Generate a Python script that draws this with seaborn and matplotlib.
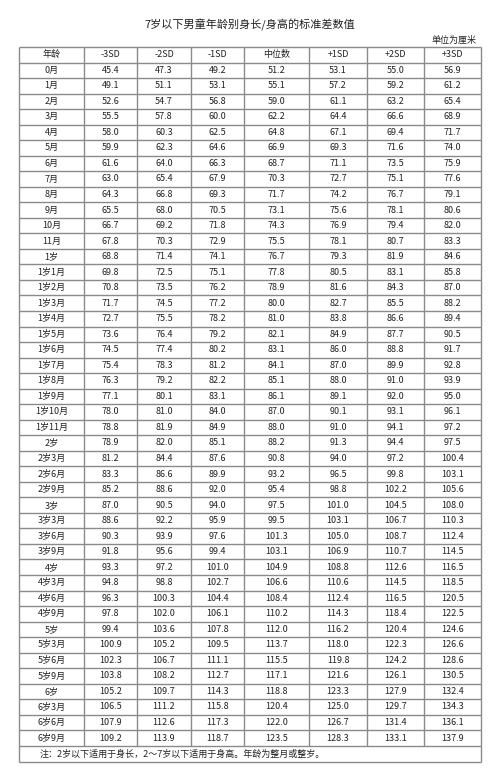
import numpy as np
import pandas as pd
import seaborn as sns
import matplotlib
matplotlib.use("Agg")
import matplotlib.pyplot as plt

sns.set_style("white")
plt.rcParams['font.family'] = ['Noto Sans CJK SC', 'DejaVu Sans']

ages = ['0月', '1月', '2月', '3月', '4月', '5月', '6月', '7月', '8月', '9月', '10月', '11月',
        '1岁', '1岁1月', '1岁2月', '1岁3月', '1岁4月', '1岁5月', '1岁6月', '1岁7月', '1岁8月',
        '1岁9月', '1岁10月', '1岁11月', '2岁', '2岁3月', '2岁6月', '2岁9月', '3岁', '3岁3月',
        '3岁6月', '3岁9月', '4岁', '4岁3月', '4岁6月', '4岁9月', '5岁', '5岁3月', '5岁6月',
        '5岁9月', '6岁', '6岁3月', '6岁6月', '6岁9月']
m3 = [45.4, 49.1, 52.6, 55.5, 58.0, 59.9, 61.6, 63.0, 64.3, 65.5, 66.7, 67.8, 68.8, 69.8, 70.8, 71.7,
      72.7, 73.6, 74.5, 75.4, 76.3, 77.1, 78.0, 78.8, 78.9, 81.2, 83.3, 85.2, 87.0, 88.6, 90.3, 91.8,
      93.3, 94.8, 96.3, 97.8, 99.4, 100.9, 102.3, 103.8, 105.2, 106.5, 107.9, 109.2]
m2 = [47.3, 51.1, 54.7, 57.8, 60.3, 62.3, 64.0, 65.4, 66.8, 68.0, 69.2, 70.3, 71.4, 72.5, 73.5, 74.5,
      75.5, 76.4, 77.4, 78.3, 79.2, 80.1, 81.0, 81.9, 82.0, 84.4, 86.6, 88.6, 90.5, 92.2, 93.9, 95.6,
      97.2, 98.8, 100.3, 102.0, 103.6, 105.2, 106.7, 108.2, 109.7, 111.2, 112.6, 113.9]
m1 = [49.2, 53.1, 56.8, 60.0, 62.5, 64.6, 66.3, 67.9, 69.3, 70.5, 71.8, 72.9, 74.1, 75.1, 76.2, 77.2,
      78.2, 79.2, 80.2, 81.2, 82.2, 83.1, 84.0, 84.9, 85.1, 87.6, 89.9, 92.0, 94.0, 95.9, 97.6, 99.4,
      101.0, 102.7, 104.4, 106.1, 107.8, 109.5, 111.1, 112.7, 114.3, 115.8, 117.3, 118.7]
med = [51.2, 55.1, 59.0, 62.2, 64.8, 66.9, 68.7, 70.3, 71.7, 73.1, 74.3, 75.5, 76.7, 77.8, 78.9, 80.0,
       81.0, 82.1, 83.1, 84.1, 85.1, 86.1, 87.0, 88.0, 88.2, 90.8, 93.2, 95.4, 97.5, 99.5, 101.3, 103.1,
       104.9, 106.6, 108.4, 110.2, 112.0, 113.7, 115.5, 117.1, 118.8, 120.4, 122.0, 123.5]
p1 = [53.1, 57.2, 61.1, 64.4, 67.1, 69.3, 71.1, 72.7, 74.2, 75.6, 76.9, 78.1, 79.3, 80.5, 81.6, 82.7,
      83.8, 84.9, 86.0, 87.0, 88.0, 89.1, 90.1, 91.0, 91.3, 94.0, 96.5, 98.8, 101.0, 103.1, 105.0, 106.9,
      108.8, 110.6, 112.4, 114.3, 116.2, 118.0, 119.8, 121.6, 123.3, 125.0, 126.7, 128.3]
p2 = [55.0, 59.2, 63.2, 66.6, 69.4, 71.6, 73.5, 75.1, 76.7, 78.1, 79.4, 80.7, 81.9, 83.1, 84.3, 85.5,
      86.6, 87.7, 88.8, 89.9, 91.0, 92.0, 93.1, 94.1, 94.4, 97.2, 99.8, 102.2, 104.5, 106.7, 108.7, 110.7,
      112.6, 114.5, 116.5, 118.4, 120.4, 122.3, 124.2, 126.1, 127.9, 129.7, 131.4, 133.1]
p3 = [56.9, 61.2, 65.4, 68.9, 71.7, 74.0, 75.9, 77.6, 79.1, 80.6, 82.0, 83.3, 84.6, 85.8, 87.0, 88.2,
      89.4, 90.5, 91.7, 92.8, 93.9, 95.0, 96.1, 97.2, 97.5, 100.4, 103.1, 105.6, 108.0, 110.3, 112.4, 114.5,
      116.5, 118.5, 120.5, 122.5, 124.6, 126.6, 128.6, 130.5, 132.4, 134.3, 136.1, 137.9]
headers = ['年龄', '-3SD', '-2SD', '-1SD', '中位数', '+1SD', '+2SD', '+3SD']

df = pd.DataFrame({'-3SD': m3, '-2SD': m2, '-1SD': m1, '中位数': med,
                   '+1SD': p1, '+2SD': p2, '+3SD': p3}, index=ages)

fig = plt.figure(figsize=(5, 7.7), dpi=100)
ax = fig.add_axes([0, 0, 1, 1])
ax.set_xlim(0, 500)
ax.set_ylim(770, 0)
ax.axis('off')

xb = [19, 84, 137, 191, 244, 309, 367, 424, 481]
top, hdr_bot = 47, 62.5
row_h = 15.53
n = len(ages)
yb = [top] + [hdr_bot + i * row_h for i in range(n + 1)]
note_bot = yb[-1] + 16
lc = '#8a8a8a'

for y in yb + [note_bot]:
    ax.hlines(y, xb[0], xb[-1], color=lc, lw=1)
for x in xb:
    ax.vlines(x, top, yb[-1] if x not in (xb[0], xb[-1]) else note_bot, color=lc, lw=1)

fs = 6.5
xc = [(xb[i] + xb[i + 1]) / 2 for i in range(8)]
for j, h in enumerate(headers):
    ax.text(xc[j], (top + hdr_bot) / 2, h, ha='center', va='center', fontsize=fs, color='#222')
for i, age in enumerate(ages):
    yc = (yb[i + 1] + yb[i + 2]) / 2
    ax.text(xc[0], yc, age, ha='center', va='center', fontsize=fs, color='#222')
    for j, col in enumerate(df.columns):
        ax.text(xc[j + 1], yc, f"{df.loc[age, col]:.1f}", ha='center', va='center',
                fontsize=fs, color='#222')

ax.text(250, 25, '7岁以下男童年龄别身长/身高的标准差数值', ha='center', va='center',
        fontsize=8, color='#222')
ax.text(476, 40, '单位为厘米', ha='right', va='center', fontsize=6.5, color='#222')
ax.text(40, (yb[-1] + note_bot) / 2, '注：2岁以下适用于身长，2～7岁以下适用于身高。年龄为整月或整岁。',
        ha='left', va='center', fontsize=6.5, color='#222')

fig.savefig('out.png', dpi=100, facecolor='white')
